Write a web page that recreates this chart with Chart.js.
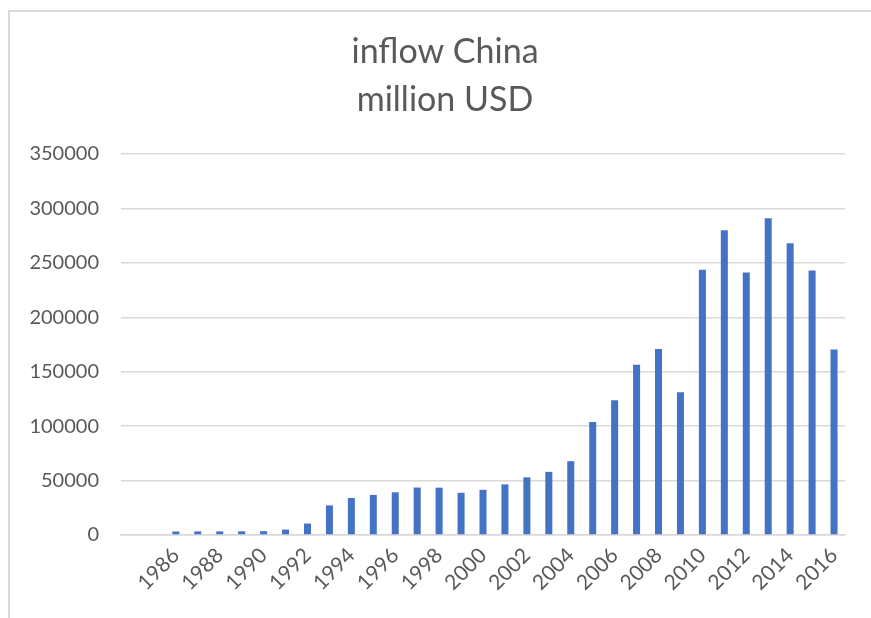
<!DOCTYPE html>
<html>
<head>
<meta charset="utf-8">
<script src="https://cdn.jsdelivr.net/npm/chart.js@4/dist/chart.umd.min.js"></script>
<style>
  html, body { margin: 0; padding: 0; background: #fff; }
  #wrap { position: relative; width: 871px; height: 618px; overflow: hidden; }
  #frame { position: absolute; left: 8px; top: 10px; width: 900px; height: 700px;
           border-left: 2px solid #d9d9d9; border-top: 2px solid #d9d9d9; }
  canvas { position: absolute; left: 0; top: 0; }
</style>
</head>
<body>
<div id="wrap">
  <div id="frame"></div>
  <canvas id="chart" width="871" height="618"></canvas>
</div>
<script>
// years on the category axis (1984 and 1985 are empty slots, as in the original)
const years = ['1984', '1985', '1986', '1987', '1988', '1989', '1990', '1991', '1992',
  '1993', '1994', '1995', '1996', '1997', '1998', '1999', '2000', '2001', '2002',
  '2003', '2004', '2005', '2006', '2007', '2008', '2009', '2010', '2011', '2012',
  '2013', '2014', '2015', '2016'];

// inflow, million USD
const inflow = [null, null, 3200, 3300, 3300, 3400, 3500, 5000, 10500,
  27200, 34000, 36800, 39200, 43600, 43500, 38800, 41500, 46500, 53000,
  58000, 67800, 103800, 123800, 156300, 170800, 131100, 243700, 280000, 241200,
  291000, 268000, 243000, 170400];

const yTicks = [0, 50000, 100000, 150000, 200000, 250000, 300000, 350000];
const titleLines = ['inflow China', 'million USD'];

const textColor = '#595959';
const gridColor = '#d9d9d9';
const fontFamily = 'Lato, "Open Sans", sans-serif';

// the title sits centred on the whole chart frame, not on the canvas minus padding,
// so it is drawn here instead of by the title plugin
const frameTitle = {
  id: 'frameTitle',
  afterDraw: function (chart) {
    const ctx = chart.ctx;
    ctx.save();
    ctx.fillStyle = textColor;
    ctx.font = '34px ' + fontFamily;
    ctx.textAlign = 'center';
    ctx.textBaseline = 'middle';
    titleLines.forEach(function (line, i) {
      ctx.fillText(line, 445, 52 + i * 48);
    });
    ctx.restore();
  },
};

new Chart(document.getElementById('chart'), {
  type: 'bar',
  data: {
    labels: years,
    datasets: [{
      label: 'inflow China',
      data: inflow,
      backgroundColor: '#4472c4',
      borderWidth: 0,
      barPercentage: 0.32,
      categoryPercentage: 1,
    }],
  },
  options: {
    responsive: false,
    animation: false,
    layout: {
      padding: { left: 0, right: 26, top: 154, bottom: 0 },
    },
    plugins: {
      legend: { display: false },
      tooltip: { enabled: false },
      title: { display: false },
    },
    scales: {
      x: {
        grid: { display: false, drawTicks: false },
        border: { display: true, color: gridColor, width: 1.5 },
        afterFit: function (scale) {
          scale.height = 83;
        },
        ticks: {
          autoSkip: false,
          maxRotation: 45,
          minRotation: 45,
          padding: 8,
          color: textColor,
          font: { family: fontFamily, size: 21 },
          callback: function (value, index) {
            return index >= 2 && index % 2 === 0 ? years[index] : '';
          },
        },
      },
      y: {
        min: 0,
        max: 350000,
        afterFit: function (scale) {
          scale.width = 121;
        },
        afterBuildTicks: function (scale) {
          scale.ticks = yTicks.map(function (v) { return { value: v }; });
        },
        grid: { color: gridColor, lineWidth: 1.5, drawTicks: false },
        border: { display: false },
        ticks: {
          padding: 22,
          color: textColor,
          font: { family: fontFamily, size: 20 },
          callback: function (value) { return String(value); },
        },
      },
    },
  },
  plugins: [frameTitle],
});
</script>
</body>
</html>
